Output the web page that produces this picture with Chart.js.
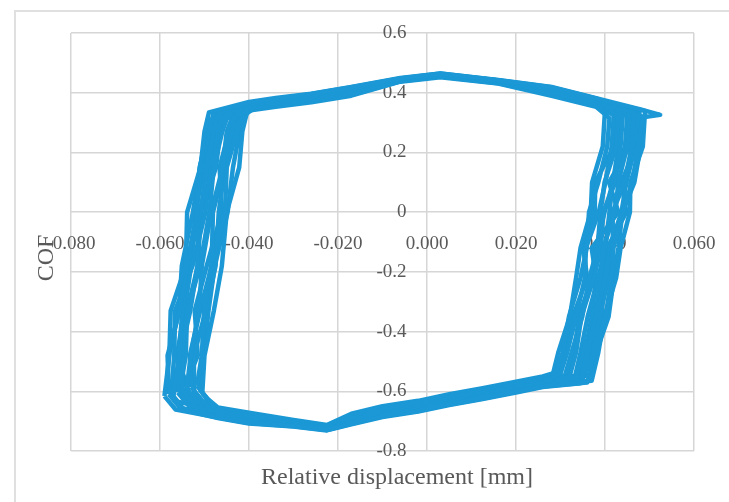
<!DOCTYPE html>
<html>
<head>
<meta charset="utf-8">
<script src="https://cdn.jsdelivr.net/npm/chart.js@4.4.1/dist/chart.umd.min.js"></script>
<style>
  html, body { margin: 0; padding: 0; background: #fff; }
  #wrap { width: 729px; height: 502px; }
</style>
</head>
<body>
<div id="wrap"><canvas id="cofChart" width="729" height="502"></canvas></div>
<script>
// axis ranges and tick spacing
const xRange = [-0.08, 0.06];
const yRange = [-0.8, 0.6];
const xStep = 0.02;
const yStep = 0.2;

// fretting cycles: [relative displacement (mm), COF], each loop closed on its first point
const cycleA = [[-0.0590,-0.616],[-0.0579,-0.48],[-0.0576,-0.33],[-0.0542,-0.18],[-0.0539,0.00],[-0.0509,0.15],[-0.0500,0.27],
  [-0.0490,0.334],[-0.040,0.369],[-0.034,0.382],[-0.026,0.397],[-0.017,0.419],[-0.006,0.449],[0.003,0.464],[0.016,0.443],[0.028,0.419],[0.038,0.382],
  [0.0480,0.344],[0.0524,0.326],[0.0485,0.318],[0.0475,0.22],[0.0461,0.10],[0.0440,0.00],[0.0419,-0.12],[0.0415,-0.22],[0.0401,-0.35],[0.0375,-0.47],
  [0.0360,-0.571],[0.026,-0.584],[0.020,-0.602],[0.0125,-0.624],[0.005,-0.644],[-0.002,-0.666],[-0.010,-0.684],[-0.017,-0.709],[-0.0225,-0.730],
  [-0.030,-0.717],[-0.040,-0.706],[-0.047,-0.688],[-0.0565,-0.661],[-0.0590,-0.616]];
const cycleB = [[-0.0580,-0.610],[-0.0583,-0.48],[-0.0556,-0.33],[-0.0540,-0.18],[-0.0517,0.00],[-0.0511,0.15],[-0.0490,0.27],
  [-0.0480,0.329],[-0.040,0.364],[-0.034,0.377],[-0.026,0.392],[-0.017,0.414],[-0.006,0.447],[0.003,0.462],[0.016,0.441],[0.028,0.414],[0.038,0.377],
  [0.0490,0.339],[0.0485,0.22],[0.0457,0.10],[0.0456,0.00],[0.0435,-0.12],[0.0425,-0.22],[0.0399,-0.35],[0.0385,-0.47],
  [0.0370,-0.565],[0.026,-0.578],[0.020,-0.596],[0.0125,-0.618],[0.005,-0.638],[-0.002,-0.660],[-0.010,-0.678],[-0.017,-0.703],[-0.0225,-0.727],
  [-0.030,-0.713],[-0.040,-0.700],[-0.047,-0.682],[-0.0555,-0.655],[-0.0580,-0.610]];
const cycleC = [[-0.0570,-0.618],[-0.0557,-0.48],[-0.0550,-0.33],[-0.0538,-0.18],[-0.0509,0.00],[-0.0495,0.15],[-0.0480,0.27],
  [-0.0470,0.324],[-0.040,0.359],[-0.034,0.372],[-0.026,0.387],[-0.017,0.409],[-0.006,0.445],[0.003,0.460],[0.016,0.439],[0.028,0.409],[0.038,0.372],
  [0.0465,0.334],[0.0460,0.22],[0.0444,0.10],[0.0417,0.00],[0.0418,-0.12],[0.0400,-0.22],[0.0380,-0.35],[0.0360,-0.47],
  [0.0345,-0.573],[0.026,-0.586],[0.020,-0.604],[0.0125,-0.626],[0.005,-0.646],[-0.002,-0.668],[-0.010,-0.686],[-0.017,-0.711],[-0.0225,-0.731],
  [-0.030,-0.718],[-0.040,-0.708],[-0.047,-0.690],[-0.0545,-0.663],[-0.0570,-0.618]];
const cycleD = [[-0.0560,-0.604],[-0.0555,-0.48],[-0.0532,-0.33],[-0.0516,-0.18],[-0.0513,0.00],[-0.0477,0.15],[-0.0470,0.27],
  [-0.0460,0.318],[-0.040,0.353],[-0.034,0.366],[-0.026,0.381],[-0.017,0.403],[-0.006,0.442],[0.003,0.458],[0.016,0.436],[0.028,0.403],[0.038,0.366],
  [0.0455,0.328],[0.0450,0.22],[0.0430,0.10],[0.0423,0.00],[0.0396,-0.12],[0.0390,-0.22],[0.0378,-0.35],[0.0350,-0.47],
  [0.0335,-0.559],[0.026,-0.572],[0.020,-0.590],[0.0125,-0.612],[0.005,-0.632],[-0.002,-0.654],[-0.010,-0.672],[-0.017,-0.697],[-0.0225,-0.724],
  [-0.030,-0.709],[-0.040,-0.694],[-0.047,-0.676],[-0.0535,-0.649],[-0.0560,-0.604]];
const cycleE = [[-0.0550,-0.598],[-0.0551,-0.48],[-0.0538,-0.33],[-0.0510,-0.18],[-0.0489,0.00],[-0.0479,0.15],[-0.0460,0.27],
  [-0.0450,0.313],[-0.040,0.348],[-0.034,0.361],[-0.026,0.376],[-0.017,0.398],[-0.006,0.440],[0.003,0.456],[0.016,0.434],[0.028,0.398],[0.038,0.361],
  [0.0440,0.323],[0.0435,0.22],[0.0423,0.10],[0.0396,0.00],[0.0391,-0.12],[0.0375,-0.22],[0.0347,-0.35],[0.0335,-0.47],
  [0.0320,-0.553],[0.026,-0.566],[0.020,-0.584],[0.0125,-0.606],[0.005,-0.626],[-0.002,-0.648],[-0.010,-0.666],[-0.017,-0.691],[-0.0225,-0.721],
  [-0.030,-0.706],[-0.040,-0.688],[-0.047,-0.670],[-0.0525,-0.643],[-0.0550,-0.598]];
const cycleF = [[-0.0540,-0.592],[-0.0531,-0.48],[-0.0512,-0.33],[-0.0506,-0.18],[-0.0485,0.00],[-0.0459,0.15],[-0.0450,0.27],
  [-0.0440,0.308],[-0.040,0.343],[-0.034,0.356],[-0.026,0.371],[-0.017,0.393],[-0.006,0.438],[0.003,0.454],[0.016,0.432],[0.028,0.393],[0.038,0.356],
  [0.0430,0.318],[0.0425,0.22],[0.0399,0.10],[0.0390,0.00],[0.0383,-0.12],[0.0365,-0.22],[0.0349,-0.35],[0.0325,-0.47],
  [0.0310,-0.547],[0.026,-0.560],[0.020,-0.578],[0.0125,-0.600],[0.005,-0.620],[-0.002,-0.642],[-0.010,-0.660],[-0.017,-0.685],[-0.0225,-0.718],
  [-0.030,-0.702],[-0.040,-0.682],[-0.047,-0.664],[-0.0515,-0.637],[-0.0540,-0.592]];
const cycleG = [[-0.0530,-0.586],[-0.0533,-0.48],[-0.0510,-0.33],[-0.0484,-0.18],[-0.0481,0.00],[-0.0455,0.15],[-0.0440,0.27],
  [-0.0430,0.321],[-0.040,0.356],[-0.034,0.369],[-0.026,0.384],[-0.017,0.406],[-0.006,0.443],[0.003,0.459],[0.016,0.437],[0.028,0.406],[0.038,0.369],
  [0.0420,0.331],[0.0415,0.22],[0.0401,0.10],[0.0386,0.00],[0.0357,-0.12],[0.0355,-0.22],[0.0335,-0.35],[0.0315,-0.47],
  [0.0300,-0.541],[0.026,-0.554],[0.020,-0.572],[0.0125,-0.594],[0.005,-0.614],[-0.002,-0.636],[-0.010,-0.654],[-0.017,-0.679],[-0.0225,-0.715],
  [-0.030,-0.699],[-0.040,-0.676],[-0.047,-0.658],[-0.0505,-0.631],[-0.0530,-0.586]];
const cycleH = [[-0.0517,-0.582],[-0.0506,-0.48],[-0.0501,-0.33],[-0.0485,-0.18],[-0.0454,0.00],[-0.0450,0.15],[-0.0427,0.27],
  [-0.0417,0.305],[-0.040,0.340],[-0.034,0.353],[-0.026,0.368],[-0.017,0.390],[-0.006,0.437],[0.003,0.452],[0.016,0.431],[0.028,0.390],[0.038,0.353],
  [0.0410,0.315],[0.0405,0.22],[0.0385,0.10],[0.0364,0.00],[0.0359,-0.12],[0.0345,-0.22],[0.0319,-0.35],[0.0305,-0.47],
  [0.0290,-0.537],[0.026,-0.550],[0.020,-0.568],[0.0125,-0.590],[0.005,-0.610],[-0.002,-0.632],[-0.010,-0.650],[-0.017,-0.675],[-0.0225,-0.713],
  [-0.030,-0.696],[-0.040,-0.672],[-0.047,-0.654],[-0.0492,-0.627],[-0.0517,-0.582]];
const cycleI = [[-0.0505,-0.606],[-0.0500,-0.48],[-0.0479,-0.33],[-0.0461,-0.18],[-0.0450,0.00],[-0.0422,0.15],[-0.0415,0.27],
  [-0.0405,0.331],[-0.037,0.366],[-0.032,0.379],[-0.026,0.394],[-0.017,0.416],[-0.006,0.447],[0.003,0.463],[0.016,0.441],[0.028,0.416],[0.036,0.379],
  [0.0400,0.341],[0.0395,0.22],[0.0371,0.10],[0.0368,0.00],[0.0345,-0.12],[0.0335,-0.22],[0.0321,-0.35],[0.0295,-0.47],
  [0.0280,-0.561],[0.024,-0.574],[0.020,-0.592],[0.0125,-0.614],[0.005,-0.634],[-0.002,-0.656],[-0.010,-0.674],[-0.017,-0.699],[-0.0225,-0.725],
  [-0.030,-0.711],[-0.040,-0.696],[-0.047,-0.678],[-0.048,-0.651],[-0.0505,-0.606]];
const cycleJ = [[-0.0585,-0.590],[-0.0580,-0.48],[-0.0557,-0.33],[-0.0551,-0.18],[-0.0526,0.00],[-0.0510,0.15],[-0.0495,0.27],
  [-0.0485,0.310],[-0.040,0.345],[-0.034,0.358],[-0.026,0.373],[-0.017,0.395],[-0.006,0.439],[0.003,0.454],[0.016,0.433],[0.028,0.395],[0.038,0.358],
  [0.0485,0.320],[0.0480,0.22],[0.0466,0.10],[0.0439,0.00],[0.0430,-0.12],[0.0420,-0.22],[0.0408,-0.35],[0.0380,-0.47],
  [0.0365,-0.545],[0.026,-0.558],[0.020,-0.576],[0.0125,-0.598],[0.005,-0.618],[-0.002,-0.640],[-0.010,-0.658],[-0.017,-0.683],[-0.0225,-0.717],
  [-0.030,-0.701],[-0.040,-0.680],[-0.047,-0.662],[-0.0560,-0.635],[-0.0585,-0.590]];
const cycleK = [[-0.0555,-0.596],[-0.0542,-0.48],[-0.0539,-0.33],[-0.0515,-0.18],[-0.0508,0.00],[-0.0474,0.15],[-0.0465,0.27],
  [-0.0455,0.326],[-0.040,0.361],[-0.034,0.374],[-0.026,0.389],[-0.017,0.411],[-0.006,0.445],[0.003,0.461],[0.016,0.439],[0.028,0.411],[0.038,0.374],
  [0.0473,0.336],[0.0468,0.22],[0.0448,0.10],[0.0437,0.00],[0.0410,-0.12],[0.0408,-0.22],[0.0388,-0.35],[0.0368,-0.47],
  [0.0353,-0.551],[0.026,-0.564],[0.020,-0.582],[0.0125,-0.604],[0.005,-0.624],[-0.002,-0.646],[-0.010,-0.664],[-0.017,-0.689],[-0.0225,-0.720],
  [-0.030,-0.705],[-0.040,-0.686],[-0.047,-0.668],[-0.0530,-0.641],[-0.0555,-0.596]];
const cycleL = [[-0.0523,-0.612],[-0.0524,-0.48],[-0.0497,-0.33],[-0.0475,-0.18],[-0.0468,0.00],[-0.0454,0.15],[-0.0433,0.27],
  [-0.0423,0.315],[-0.039,0.350],[-0.034,0.363],[-0.026,0.378],[-0.017,0.400],[-0.006,0.441],[0.003,0.456],[0.016,0.435],[0.028,0.400],[0.038,0.363],
  [0.0450,0.325],[0.0445,0.22],[0.0417,0.10],[0.0410,0.00],[0.0401,-0.12],[0.0385,-0.22],[0.0361,-0.35],[0.0345,-0.47],
  [0.0330,-0.567],[0.026,-0.580],[0.020,-0.598],[0.0125,-0.620],[0.005,-0.640],[-0.002,-0.662],[-0.010,-0.680],[-0.017,-0.705],[-0.0225,-0.728],
  [-0.030,-0.714],[-0.040,-0.702],[-0.047,-0.684],[-0.0498,-0.657],[-0.0523,-0.612]];
const cycleM = [[-0.0511,-0.594],[-0.0502,-0.48],[-0.0491,-0.33],[-0.0477,-0.18],[-0.0448,0.00],[-0.0436,0.15],[-0.0421,0.27],
  [-0.0411,0.333],[-0.038,0.368],[-0.033,0.381],[-0.026,0.396],[-0.017,0.418],[-0.006,0.448],[0.003,0.464],[0.016,0.442],[0.028,0.418],[0.038,0.381],
  [0.0435,0.343],[0.0430,0.22],[0.0418,0.10],[0.0399,0.00],[0.0380,-0.12],[0.0370,-0.22],[0.0342,-0.35],[0.0330,-0.47],
  [0.0315,-0.549],[0.026,-0.562],[0.020,-0.580],[0.0125,-0.602],[0.005,-0.622],[-0.002,-0.644],[-0.010,-0.662],[-0.017,-0.687],[-0.0225,-0.719],
  [-0.030,-0.703],[-0.040,-0.684],[-0.047,-0.666],[-0.0486,-0.639],[-0.0511,-0.594]];
const cycleN = [[-0.0575,-0.614],[-0.0568,-0.48],[-0.0566,-0.33],[-0.0527,-0.18],[-0.0498,0.00],[-0.0487,0.15],[-0.0475,0.27],
  [-0.0465,0.322],[-0.040,0.357],[-0.034,0.370],[-0.026,0.385],[-0.017,0.407],[-0.006,0.444],[0.003,0.459],[0.016,0.438],[0.028,0.407],[0.038,0.370],
  [0.0460,0.332],[0.0455,0.22],[0.0409,0.10],[0.0430,0.00],[0.0370,-0.12],[0.0380,-0.22],[0.0370,-0.35],[0.0355,-0.47],
  [0.0340,-0.569],[0.026,-0.582],[0.020,-0.600],[0.0125,-0.622],[0.005,-0.642],[-0.002,-0.664],[-0.010,-0.682],[-0.017,-0.707],[-0.0225,-0.729],
  [-0.030,-0.715],[-0.040,-0.704],[-0.047,-0.686],[-0.0550,-0.659],[-0.0575,-0.614]];
const cycleO = [[-0.0545,-0.588],[-0.0515,-0.48],[-0.0522,-0.33],[-0.0495,-0.18],[-0.0461,0.00],[-0.0466,0.15],[-0.0445,0.27],
  [-0.0435,0.311],[-0.040,0.346],[-0.034,0.359],[-0.026,0.374],[-0.017,0.396],[-0.006,0.439],[0.003,0.455],[0.016,0.433],[0.028,0.396],[0.038,0.359],
  [0.0425,0.321],[0.0420,0.22],[0.0378,0.10],[0.0377,0.00],[0.0351,-0.12],[0.0360,-0.22],[0.0328,-0.35],[0.0310,-0.47],
  [0.0295,-0.543],[0.026,-0.556],[0.020,-0.574],[0.0125,-0.596],[0.005,-0.616],[-0.002,-0.638],[-0.010,-0.656],[-0.017,-0.681],[-0.0225,-0.716],
  [-0.030,-0.700],[-0.040,-0.678],[-0.047,-0.660],[-0.0520,-0.633],[-0.0545,-0.588]];
const cycleP = [[-0.0535,-0.602],[-0.0562,-0.48],[-0.0545,-0.33],[-0.0530,-0.18],[-0.0520,0.00],[-0.0502,0.15],[-0.0485,0.27],
  [-0.0475,0.330],[-0.040,0.365],[-0.034,0.378],[-0.026,0.393],[-0.017,0.415],[-0.006,0.447],[0.003,0.462],[0.016,0.441],[0.028,0.415],[0.038,0.378],
  [0.0478,0.340],[0.0470,0.22],[0.0437,0.10],[0.0448,0.00],[0.0405,-0.12],[0.0395,-0.22],[0.0393,-0.35],[0.0365,-0.47],
  [0.0350,-0.557],[0.026,-0.570],[0.020,-0.588],[0.0125,-0.610],[0.005,-0.630],[-0.002,-0.652],[-0.010,-0.670],[-0.017,-0.695],[-0.0225,-0.723],
  [-0.030,-0.708],[-0.040,-0.692],[-0.047,-0.674],[-0.0510,-0.647],[-0.0535,-0.602]];

const cycles = [cycleA, cycleB, cycleC, cycleD, cycleE, cycleF, cycleG, cycleH,
  cycleI, cycleJ, cycleK, cycleL, cycleM, cycleN, cycleO, cycleP];

const lineColor = '#1b98d5';
const gridColor = '#d6d6d6';
const textColor = '#595959';
const serif = '"Liberation Serif", "Times New Roman", serif';
const tickFont = { family: serif, size: 19 };

// light frame around the figure and the two axis titles
const framePlugin = {
  id: 'frame',
  beforeDraw(chart) {
    const ctx = chart.ctx;
    ctx.save();
    ctx.fillStyle = '#fff';
    ctx.fillRect(0, 0, chart.width, chart.height);
    ctx.strokeStyle = '#e0e0e0';
    ctx.lineWidth = 2;
    ctx.beginPath();
    ctx.moveTo(15, chart.height);
    ctx.lineTo(15, 11);
    ctx.lineTo(chart.width, 11);
    ctx.stroke();
    ctx.restore();
  },
  afterDraw(chart) {
    const { ctx, chartArea } = chart;
    ctx.save();
    ctx.fillStyle = textColor;
    ctx.font = '24px ' + serif;
    ctx.textAlign = 'center';
    ctx.textBaseline = 'middle';
    ctx.fillText('Relative displacement [mm]', chartArea.left + 326, chartArea.bottom + 27);
    ctx.translate(47, chartArea.top + 225);
    ctx.rotate(-Math.PI / 2);
    ctx.fillText('COF', 0, 0);
    ctx.restore();
  }
};

// label-only scales sit above the loops; keep them from pushing the plot area around
function noPadding(scale) {
  scale.paddingLeft = 0;
  scale.paddingRight = 0;
  scale.paddingTop = 0;
  scale.paddingBottom = 0;
}

const fmtX = v => (Math.abs(v) < 1e-9 ? '0.000' : v.toFixed(3));
const fmtY = v => (Math.abs(v) < 1e-9 ? '0' : v.toFixed(1));

new Chart(document.getElementById('cofChart'), {
  type: 'scatter',
  data: {
    datasets: cycles.map(c => ({
      data: c.map(p => ({ x: p[0], y: p[1] })),
      showLine: true,
      borderColor: lineColor,
      borderWidth: 4.5,
      borderJoinStyle: 'round',
      pointRadius: 0,
      fill: false,
      tension: 0
    }))
  },
  options: {
    responsive: false,
    animation: false,
    layout: { padding: { left: 71, top: 33, right: 35, bottom: 51 } },
    plugins: { legend: { display: false }, tooltip: { enabled: false } },
    scales: {
      x: {
        type: 'linear', min: xRange[0], max: xRange[1], position: { y: 0 },
        grid: { color: gridColor, lineWidth: 1.5, drawTicks: false },
        border: { display: false },
        ticks: { display: false, stepSize: xStep },
        afterFit: noPadding
      },
      y: {
        type: 'linear', min: yRange[0], max: yRange[1], position: { x: 0 },
        grid: { color: gridColor, lineWidth: 1.5, drawTicks: false },
        border: { display: false },
        ticks: { display: false, stepSize: yStep },
        afterFit: noPadding
      },
      xLabels: {
        type: 'linear', axis: 'x', min: xRange[0], max: xRange[1], position: { y: 0 }, z: 1,
        grid: { display: false, drawTicks: false },
        border: { display: false },
        ticks: { stepSize: xStep, padding: 20, autoSkip: false, maxRotation: 0, color: textColor, font: tickFont, callback: fmtX },
        afterFit: noPadding
      },
      // value labels right-aligned a little left of the zero line
      yLabels: {
        type: 'linear', axis: 'y', min: yRange[0], max: yRange[1], position: { x: -0.0046 }, z: 1,
        grid: { display: false, drawTicks: false },
        border: { display: false },
        ticks: { stepSize: yStep, autoSkip: false, color: textColor, font: tickFont, callback: fmtY },
        afterFit: noPadding
      }
    }
  },
  plugins: [framePlugin]
});
</script>
</body>
</html>
